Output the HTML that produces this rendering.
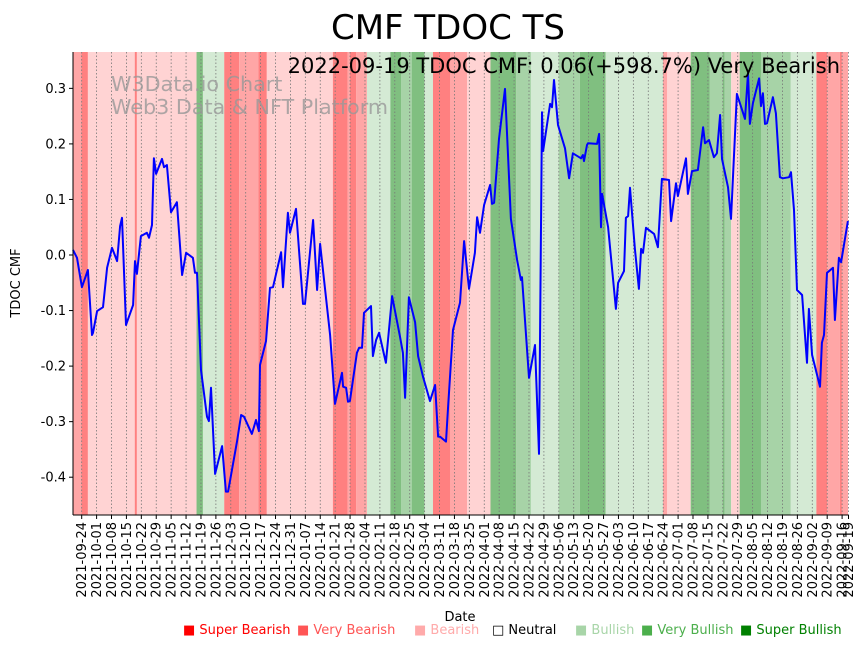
<!DOCTYPE html>
<html><head><meta charset="utf-8"><style>
html,body{margin:0;padding:0;background:#fff;}
svg{display:block;font-family:"DejaVu Sans","Liberation Sans",sans-serif;}
</style></head><body>
<svg id="chart" width="867" height="646" viewBox="0 0 867 646" xmlns="http://www.w3.org/2000/svg">
<g id="bands"></g>
<g id="grid"></g>
<text x="111" y="91" font-size="20.7" fill="#999" fill-opacity="0.8">W3Data.io Chart</text>
<text x="111" y="114" font-size="20.7" fill="#999" fill-opacity="0.8">Web3 Data &amp; NFT Platform</text>
<path id="line" fill="none" stroke="#0000ff" stroke-width="2" stroke-linejoin="round"></path>
<text x="840" y="73" font-size="21" text-anchor="end" fill="#000">2022-09-19 TDOC CMF: 0.06(+598.7%) Very Bearish</text>
<line x1="73" y1="52" x2="73" y2="515" stroke="#000" stroke-width="1"/>
<line x1="73" y1="515" x2="848" y2="515" stroke="#000" stroke-width="1"/>
<g id="yticks"></g>
<g id="xticks"></g>
<text x="448" y="39" font-size="34" text-anchor="middle" fill="#000">CMF TDOC TS</text>
<text transform="translate(20,283) rotate(-90)" font-size="13" text-anchor="middle">TDOC CMF</text>
<text x="460" y="621" font-size="13" text-anchor="middle">Date</text>
<g font-size="13">
<text x="183" y="634" fill="#ff0000">■ Super Bearish</text>
<text x="297" y="634" fill="#ff5555">■ Very Bearish</text>
<text x="414" y="634" fill="#ffaaaa">■ Bearish</text>
<text x="492" y="634" fill="#000">□ Neutral</text>
<text x="575" y="634" fill="#a8d5a8">■ Bullish</text>
<text x="641" y="634" fill="#4caf4c">■ Very Bullish</text>
<text x="740" y="634" fill="#008000">■ Super Bullish</text>
</g>
</svg>
<script>
// days since 2021-09-21
const days = [0,1.9,4.2,7.0,8.9,9.4,11.3,14.1,16.0,18.3,20.7,22.1,23.0,24.9,28.2,29.1,30.0,31.9,34.7,35.7,37.1,38.0,39.0,41.8,42.7,44.1,46.0,48.8,51.2,53.1,56.3,57.3,58.2,60.1,62.9,63.8,64.8,66.7,70.0,71.8,72.8,77.0,78.9,80.3,84.0,85.9,87.3,87.8,90.6,92.5,93.9,97.7,98.6,100.9,101.9,104.7,106.1,108.0,108.9,112.7,114.6,116.0,120.7,123.0,126.3,126.8,128.2,129.1,130.0,133.3,134.3,135.7,136.6,139.9,140.8,142.3,143.7,146.9,149.8,153.5,154.9,155.9,157.7,160.6,162.0,164.3,167.6,170.0,171.4,172.3,175.1,176.1,178.4,181.7,183.6,185.9,188.7,189.7,191.1,193.0,195.8,196.7,197.7,200.0,202.8,205.6,208.5,210.3,210.8,214.1,216.9,218.8,220.2,220.7,224.0,224.9,225.8,227.7,231.0,232.9,234.7,238.5,239.4,239.9,241.3,241.8,246.0,247.0,247.9,248.4,251.2,254.9,255.9,258.7,259.6,260.6,261.5,263.8,265.7,266.7,267.6,269.0,272.8,274.6,276.5,279.8,280.8,283.1,284.0,287.8,288.7,290.6,293.4,295.8,296.7,298.6,300.9,302.3,303.8,304.7,307.5,308.9,311.7,315.5,316.9,317.8,319.2,322.1,323.0,323.9,324.9,325.8,328.6,330.0,331.9,333.3,336.2,337.1,338.5,339.9,342.3,343.7,344.6,345.5,347.0,350.7,351.6,352.6,354.0,356.8,357.7,359.6,360.6,363.8];
const cmf = [0.009,-0.005,-0.058,-0.027,-0.144,-0.140,-0.101,-0.094,-0.023,0.013,-0.011,0.052,0.067,-0.126,-0.090,-0.011,-0.034,0.034,0.040,0.031,0.054,0.174,0.146,0.173,0.158,0.162,0.077,0.095,-0.036,0.004,-0.005,-0.032,-0.032,-0.207,-0.291,-0.299,-0.239,-0.394,-0.344,-0.426,-0.426,-0.336,-0.288,-0.291,-0.322,-0.297,-0.317,-0.198,-0.155,-0.059,-0.058,0.005,-0.058,0.076,0.040,0.083,0.009,-0.088,-0.088,0.063,-0.063,0.020,-0.144,-0.268,-0.212,-0.237,-0.239,-0.264,-0.263,-0.176,-0.167,-0.167,-0.104,-0.092,-0.182,-0.153,-0.140,-0.194,-0.074,-0.147,-0.176,-0.257,-0.076,-0.121,-0.182,-0.219,-0.263,-0.234,-0.327,-0.327,-0.336,-0.273,-0.135,-0.086,0.025,-0.061,0.004,0.068,0.040,0.090,0.126,0.092,0.094,0.209,0.299,0.065,-0.009,-0.045,-0.040,-0.221,-0.162,-0.358,0.257,0.187,0.272,0.266,0.315,0.234,0.192,0.138,0.183,0.174,0.180,0.169,0.198,0.201,0.200,0.218,0.050,0.110,0.050,-0.097,-0.050,-0.029,0.067,0.070,0.121,0.011,-0.061,0.011,0.004,0.049,0.038,0.014,0.137,0.135,0.061,0.129,0.106,0.174,0.110,0.151,0.153,0.230,0.201,0.207,0.176,0.183,0.252,0.173,0.122,0.065,0.290,0.245,0.327,0.236,0.273,0.318,0.268,0.291,0.236,0.237,0.284,0.255,0.140,0.138,0.140,0.149,0.081,-0.063,-0.072,-0.147,-0.194,-0.097,-0.180,-0.237,-0.158,-0.144,-0.032,-0.023,-0.117,-0.005,-0.013,0.061];
// sentiment bands: start day, end day, level (3 super bearish .. -3 super bullish)
const bandStart = [0,4,7,29,30,58,61,71,78,87,91,122,129,130,133,138,149,154,159,165,169,177,185,196,208,215,228,238,250,277,279,290,299,305,306,309,313,323,337,349,354,360,361];
const bandEnd   = [4,7,29,30,58,61,71,78,87,91,122,129,130,133,138,149,154,159,165,169,177,185,196,208,215,228,238,250,277,279,290,299,305,306,309,313,323,337,349,354,360,361,364];
const bandLevel = [2,3,1,3,1,-3,-1,3,2,3,1,3,2,3,2,-1,-3,-2,-3,-1,3,2,1,-3,-2,-1,-2,-3,-1,2,1,-3,-2,-3,-2,1,-3,-2,-1,3,2,3,2];
const yTicks = [0.3,0.2,0.1,0.0,-0.1,-0.2,-0.3,-0.4];
const xTickLabels = ["2021-09-24","2021-10-01","2021-10-08","2021-10-15","2021-10-22","2021-10-29","2021-11-05","2021-11-12","2021-11-19","2021-11-26","2021-12-03","2021-12-10","2021-12-17","2021-12-24","2021-12-31","2022-01-07","2022-01-14","2022-01-21","2022-01-28","2022-02-04","2022-02-11","2022-02-18","2022-02-25","2022-03-04","2022-03-11","2022-03-18","2022-03-25","2022-04-01","2022-04-08","2022-04-15","2022-04-22","2022-04-29","2022-05-06","2022-05-13","2022-05-20","2022-05-27","2022-06-03","2022-06-10","2022-06-17","2022-06-24","2022-07-01","2022-07-08","2022-07-15","2022-07-22","2022-07-29","2022-08-05","2022-08-12","2022-08-19","2022-08-26","2022-09-02","2022-09-09","2022-09-16","2022-09-19"];

const NS="http://www.w3.org/2000/svg";
const X0=73, PXD=2.13, TOP=52, BOT=515, XR=848;
function xs(d){return X0+d*PXD;}
function ys(v){return 255-v*555.5;}
function tickDay(lbl){const t0=Date.UTC(2021,8,24);const p=lbl.split('-');return 4.08+(Date.UTC(+p[0],+p[1]-1,+p[2])-t0)/86400000;}
const colors={"3":"#ff8080","2":"#ffa6a6","1":"#ffd3d3","-1":"#d4ead4","-2":"#a7d3a7","-3":"#80bf80"};
const bg=document.getElementById('bands');
for(let i=0;i<bandStart.length;i++){
  const r=document.createElementNS(NS,'rect');
  
  
  const x1=xs(bandStart[i]), x2=Math.min(xs(bandEnd[i]),XR);
  r.setAttribute('x',x1);r.setAttribute('y',TOP);r.setAttribute('width',Math.max(0,x2-x1));r.setAttribute('height',BOT-TOP);
  r.setAttribute('fill',colors[String(bandLevel[i])]);
  bg.appendChild(r);
}
const grid=document.getElementById('grid'), xt=document.getElementById('xticks');
xTickLabels.forEach(l=>{
  const x=xs(tickDay(l));
  const g=document.createElementNS(NS,'line');
  
  
  g.setAttribute('x1',x);g.setAttribute('x2',x);g.setAttribute('y1',TOP);g.setAttribute('y2',BOT);
  g.setAttribute('stroke','#777');g.setAttribute('stroke-width','0.8');g.setAttribute('stroke-dasharray','1.5,2');
  grid.appendChild(g);
  const tk=document.createElementNS(NS,'line');
  
  
  tk.setAttribute('x1',x);tk.setAttribute('x2',x);tk.setAttribute('y1',BOT);tk.setAttribute('y2',BOT+4);tk.setAttribute('stroke','#000');
  xt.appendChild(tk);
  const t=document.createElementNS(NS,'text');
  
  
  t.setAttribute('transform','translate('+(x+4.5)+','+(BOT+7)+') rotate(-90)');
  t.setAttribute('text-anchor','end');t.setAttribute('font-size','13');
  t.textContent=l; xt.appendChild(t);
});
const yt=document.getElementById('yticks');
yTicks.forEach(v=>{
  const y=ys(v);
  const tk=document.createElementNS(NS,'line');
  
  
  tk.setAttribute('x1',X0-4);tk.setAttribute('x2',X0);tk.setAttribute('y1',y);tk.setAttribute('y2',y);tk.setAttribute('stroke','#000');
  yt.appendChild(tk);
  const t=document.createElementNS(NS,'text');
  
  
  t.setAttribute('x',X0-7);t.setAttribute('y',y+4.5);t.setAttribute('text-anchor','end');t.setAttribute('font-size','13');
  t.textContent=v.toFixed(1); yt.appendChild(t);
});
let d='';
for(let i=0;i<days.length;i++){d+=(i?'L':'M')+xs(days[i]).toFixed(1)+','+ys(cmf[i]).toFixed(1);}
document.getElementById('line').setAttribute('d',d);
</script>
</body></html>
